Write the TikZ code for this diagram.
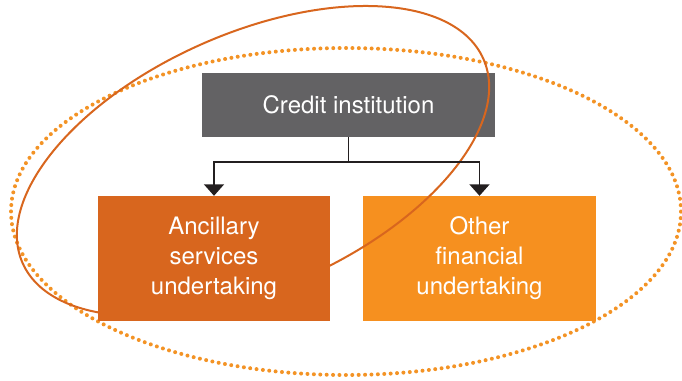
\documentclass[tikz,border=0pt]{standalone}
\usepackage{fontspec}
\setmainfont{TeX Gyre Heros}
\usetikzlibrary{arrows.meta}
\definecolor{boxgray}{HTML}{636264}
\definecolor{darkor}{HTML}{D8661E}
\definecolor{lightor}{HTML}{F6901F}
\definecolor{dotor}{HTML}{F39325}
\definecolor{arrowblk}{HTML}{231F20}
\begin{document}
\begin{tikzpicture}[x=1pt,y=-1pt,
  box/.style={inner sep=0pt, text=white, align=center,
    font=\fontsize{24}{30}\selectfont},
  conn/.style={draw=arrowblk, line width=1.7pt},
  arr/.style={conn, -{Triangle[width=20pt,length=11.5pt]}}]
\useasboundingbox (0,0) rectangle (682,380);
% dotted ellipse
\draw[dotor, line width=4pt, line cap=round, dash pattern=on 0pt off 6.4pt]
  (346,211.5) ellipse [x radius=335pt, y radius=163.5pt];
% boxes behind the solid ellipse
\node[box, fill=boxgray, minimum width=293pt, minimum height=64pt] (ci) at (348.5,105) {Credit institution};
\node[box, fill=lightor, minimum width=233pt, minimum height=125pt] (ofu) at (479.5,258.5) {Other\\financial\\undertaking};
% solid ellipse
\begin{scope}[shift={(253,161)}, rotate=23.9]
  \draw[darkor, line width=2pt] (0,0) ellipse [x radius=252pt, y radius=127.6pt];
\end{scope}
% left box in front of the solid ellipse
\node[box, fill=darkor, minimum width=232pt, minimum height=125pt] (asu) at (214,258.5) {Ancillary\\services\\undertaking};
% connectors
\draw[conn] (ci.south) -- ++(0,25) coordinate (j);
\draw[arr] (j) -| (asu.north);
\draw[arr] (j) -| (ofu.north);
\end{tikzpicture}
\end{document}
